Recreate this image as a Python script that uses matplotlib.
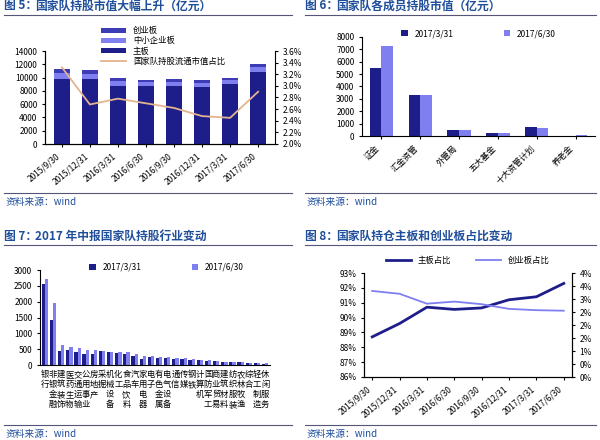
import matplotlib
matplotlib.use('Agg')
import matplotlib.pyplot as plt
from matplotlib.ticker import FuncFormatter
import numpy as np

plt.rcParams['font.family'] = ['Noto Sans CJK SC', 'DejaVu Sans']
plt.rcParams['axes.unicode_minus'] = False

NAVY = '#1E1E8A'
LIGHT = '#7F7FEF'
MID = '#3C3CB4'
TAN = '#E2B48F'
BLUE_T = '#1F4E9A'

# ---- data ----
dates = ['2015/9/30', '2015/12/31', '2016/3/31', '2016/6/30', '2016/9/30',
         '2016/12/31', '2017/3/31', '2017/6/30']
main_board = [9800, 9800, 8800, 8700, 8700, 8600, 9000, 10900]
sme_board = [900, 800, 700, 650, 700, 600, 700, 700]
gem_board = [600, 500, 500, 350, 400, 400, 300, 500]
float_share = [3.32, 2.68, 2.78, 2.70, 2.62, 2.48, 2.45, 2.90]

members = ['证金', '汇金资管', '外管局', '五大基金', '十大资管计划', '养老金']
members_q1 = [5500, 3300, 500, 280, 720, 0]
members_q2 = [7300, 3350, 470, 250, 640, 50]

industries = ['银行', '非银金融', '建筑装饰', '医药生物', '交通运输', '公用事业', '房地产',
              '采掘', '机械设备', '化工', '食品饮料', '汽车', '家用电器', '电子', '有色金属',
              '电气设备', '通信', '传媒', '钢铁', '计算机', '国防军工', '商业贸易', '建筑材料',
              '纺织服装', '农林牧渔', '综合', '轻工制造', '休闲服务']
ind_q1 = [2550, 1430, 430, 480, 420, 360, 360, 430, 410, 380, 340, 290, 200, 260, 230,
          220, 200, 190, 170, 160, 130, 120, 100, 90, 80, 50, 50, 40]
ind_q2 = [2720, 1950, 620, 570, 530, 470, 470, 430, 420, 410, 400, 360, 290, 270, 240,
          240, 210, 210, 180, 170, 160, 120, 110, 100, 90, 60, 60, 50]

main_pct = [88.7, 89.6, 90.7, 90.55, 90.65, 91.2, 91.4, 92.3]
gem_pct = [3.31, 3.2, 2.82, 2.9, 2.8, 2.62, 2.57, 2.55]

W, H = 600, 440
fig = plt.figure(figsize=(6, 4.4), dpi=100)


def ax_px(l, t, r, b):
    return fig.add_axes([l / W, 1 - b / H, (r - l) / W, (b - t) / H])


def header(x0, x1, y, num, title, foot_y):
    fig.text(x0 / W, 1 - y / H, '图 %s：' % num, color=BLUE_T, fontsize=8.5,
             fontweight='bold', va='center')
    fig.text((x0 + 31) / W, 1 - y / H, title, color=BLUE_T, fontsize=8.5,
             fontweight='bold', va='center')
    fig.add_artist(plt.Line2D([x0 / W, x1 / W], [1 - (y + 9) / H] * 2, color='#555577', lw=0.8))
    fig.add_artist(plt.Line2D([x0 / W, x1 / W], [1 - foot_y / H] * 2, color='#555577', lw=0.8))
    fig.text((x0 + 2) / W, 1 - (foot_y + 9) / H, '资料来源：wind', color=BLUE_T,
             fontsize=7, style='italic', va='center')


def style(ax):
    for s in ['top', 'right']:
        ax.spines[s].set_visible(False)
    ax.tick_params(labelsize=6, length=2)


header(4, 292, 6, '5', '国家队持股市值大幅上升（亿元）', 193)
header(305, 596, 6, '6', '国家队各成员持股市值（亿元）', 193)
header(4, 292, 236, '7', '2017 年中报国家队持股行业变动', 425)
header(305, 596, 236, '8', '国家队持仓主板和创业板占比变动', 425)

# ---- fig 5 ----
ax = ax_px(45, 51, 275, 144)
x = np.arange(len(dates))
ax.bar(x, main_board, 0.55, color=NAVY, label='主板')
ax.bar(x, sme_board, 0.55, bottom=main_board, color=LIGHT, label='中小企业板')
b2 = np.array(main_board) + np.array(sme_board)
ax.bar(x, gem_board, 0.55, bottom=b2, color=MID, label='创业板')
ax.set_ylim(0, 14000)
ax.set_yticks(range(0, 14001, 2000))
ax.set_xticks(x)
ax.set_xticklabels(dates, rotation=40, ha='right', fontsize=6)
ax.set_xlim(-0.6, 7.6)
style(ax)
ax2 = ax.twinx()
ax2.plot(x, float_share, color=TAN, lw=1.3, label='国家队持股流通市值占比')
ax2.set_ylim(2.0, 3.6)
ax2.set_yticks(np.arange(2.0, 3.61, 0.2))
ax2.yaxis.set_major_formatter(FuncFormatter(lambda v, p: '%.1f%%' % v))
ax2.spines['top'].set_visible(False)
ax2.tick_params(labelsize=6, length=2)
h1, l1 = ax.get_legend_handles_labels()
h2, l2 = ax2.get_legend_handles_labels()
fig.legend(h1[::-1] + h2, l1[::-1] + l2, loc='upper left', bbox_to_anchor=(97 / W, 1 - 22 / H),
           fontsize=6, frameon=False, handlelength=3, handleheight=0.6, labelspacing=0.15,
           borderpad=0)

# ---- fig 6 ----
ax = ax_px(362, 37, 595, 136)
x = np.arange(len(members))
ax.bar(x - 0.15, members_q1, 0.3, color=NAVY, label='2017/3/31')
ax.bar(x + 0.15, members_q2, 0.3, color=LIGHT, label='2017/6/30')
ax.set_ylim(0, 8000)
ax.set_yticks(range(0, 8001, 1000))
ax.set_xticks(x)
ax.set_xticklabels(members, rotation=45, ha='right', fontsize=6)
ax.set_xlim(-0.5, 5.5)
style(ax)
ax.legend(loc='upper center', bbox_to_anchor=(0.5, 1.12), ncol=2, fontsize=6,
          frameon=False, handlelength=0.8, columnspacing=6, borderpad=0)

# ---- fig 7 ----
ax = ax_px(40, 270, 270, 365)
x = np.arange(len(industries))
ax.bar(x - 0.2, ind_q1, 0.4, color=NAVY, label='2017/3/31')
ax.bar(x + 0.2, ind_q2, 0.4, color=LIGHT, label='2017/6/30')
ax.set_ylim(0, 3000)
ax.set_yticks(range(0, 3001, 500))
ax.set_xticks(x)
ax.set_xticklabels(['\n'.join(s) for s in industries], fontsize=5, linespacing=1.15)
ax.set_xlim(-0.6, len(industries) - 0.4)
style(ax)
ax.tick_params(axis='x', length=0)
ax.legend(loc='upper center', bbox_to_anchor=(0.55, 1.12), ncol=2, fontsize=6,
          frameon=False, handlelength=0.8, columnspacing=6, borderpad=0)

# ---- fig 8 ----
ax = ax_px(364, 273, 572, 377)
x = np.arange(len(dates))
ax.plot(x, main_pct, color=NAVY, lw=2, label='主板占比')
ax.set_ylim(86, 93)
ax.set_yticks(range(86, 94))
ax.yaxis.set_major_formatter(FuncFormatter(lambda v, p: '%d%%' % v))
ax.set_xticks(x)
ax.set_xticklabels(dates, rotation=40, ha='right', fontsize=6)
ax.set_xlim(-0.3, 7.3)
ax.spines['top'].set_visible(False)
ax.tick_params(labelsize=6, length=2)
ax2 = ax.twinx()
ax2.plot(x, gem_pct, color=LIGHT, lw=1.3, label='创业板占比')
ax2.set_ylim(0, 4)
ax2.set_yticks(np.arange(0, 4.01, 0.5))
ax2.yaxis.set_major_formatter(FuncFormatter(lambda v, p: '%.0f%%' % v))
ax2.spines['top'].set_visible(False)
ax2.tick_params(labelsize=6, length=2)
h1, l1 = ax.get_legend_handles_labels()
h2, l2 = ax2.get_legend_handles_labels()
ax.legend(h1 + h2, l1 + l2, loc='upper center', bbox_to_anchor=(0.5, 1.2), ncol=2,
          fontsize=6, frameon=False, handlelength=3, columnspacing=3, borderpad=0)

fig.savefig('out.png', dpi=100)
